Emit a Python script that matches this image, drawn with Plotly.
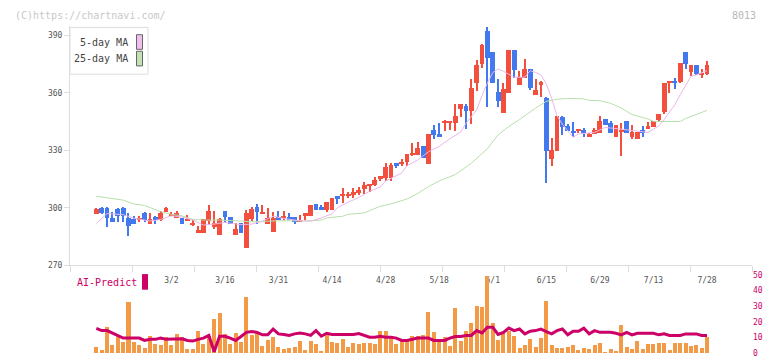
import plotly.graph_objects as go

# ---------------- data ----------------
day = list(range(1, 116))
open_ = [296.6, 299.8, 299.8, 294.7, 298.9, 299.8, 294.7, 293.9, 293.9, 297.0,
         291.5, 294.9, 293.6, 297.6, 296.0, 294.7, 294.7, 293.0, 291.0, 286.4,
         286.4, 292.7, 289.7, 285.4, 298.0, 294.9, 285.4, 291.9, 278.8, 294.0,
         300.0, 297.0, 291.5, 287.3, 294.9, 294.7, 294.9, 294.9, 292.7, 295.6,
         295.6, 302.0, 300.0, 298.6, 298.6, 306.1, 306.2, 306.2, 306.6, 307.6,
         309.7, 310.9, 311.7, 314.8, 315.1, 315.1, 322.9, 322.9, 323.6, 327.4,
         327.5, 332.0, 322.5, 340.2, 338.1, 344.2, 344.1, 344.2, 351.5, 352.7,
         350.5, 364.7, 374.9, 392.0, 380.8, 360.2, 349.3, 359.5, 381.9, 363.6,
         367.6, 372.2, 358.5, 363.9, 357.1, 325.4, 329.5, 347.3, 342.2, 339.8,
         340.0, 340.2, 336.8, 338.0, 338.8, 346.3, 344.2, 336.8, 339.8, 345.2,
         336.8, 335.8, 340.2, 340.8, 341.9, 345.8, 349.5, 365.1, 366.1, 365.6,
         380.8, 370.7, 374.2, 369.0, 369.8]
high = [299.5, 300.0, 300.0, 297.8, 299.5, 300.2, 296.9, 295.6, 295.6, 297.6,
        297.0, 295.6, 298.0, 300.0, 297.8, 298.0, 294.7, 295.8, 293.7, 290.5,
        294.0, 301.2, 298.0, 294.5, 298.0, 294.9, 291.9, 291.9, 298.6, 300.0,
        302.0, 301.2, 299.8, 297.6, 298.0, 298.0, 297.0, 295.0, 296.0, 297.0,
        301.0, 302.0, 301.0, 303.0, 305.1, 306.1, 310.2, 308.0, 310.2, 310.5,
        313.0, 312.2, 315.6, 316.5, 322.9, 322.9, 323.0, 325.0, 327.8, 333.4,
        334.2, 332.0, 338.1, 343.2, 344.2, 345.3, 344.5, 353.7, 353.7, 353.7,
        366.9, 377.0, 385.0, 394.1, 380.8, 367.0, 365.1, 381.9, 381.9, 371.2,
        377.3, 372.2, 367.1, 366.1, 357.5, 336.1, 347.8, 347.5, 343.6, 344.4,
        341.0, 341.3, 339.0, 341.3, 347.8, 346.3, 345.0, 343.2, 344.2, 345.2,
        343.2, 339.1, 342.2, 344.4, 345.2, 348.8, 365.1, 365.3, 367.3, 375.2,
        380.8, 374.2, 374.2, 372.4, 376.3]
low = [296.5, 296.6, 289.7, 292.5, 292.5, 292.5, 285.1, 291.5, 292.5, 292.5,
       291.5, 291.5, 293.0, 297.5, 295.6, 294.5, 291.5, 292.8, 290.5, 286.4,
       286.4, 291.0, 288.6, 285.4, 292.5, 291.5, 285.4, 286.4, 278.8, 293.0,
       291.4, 296.6, 291.5, 287.3, 293.6, 293.6, 293.6, 291.5, 292.5, 293.6,
       295.6, 298.6, 298.6, 297.6, 298.6, 301.7, 302.5, 304.9, 304.9, 306.6,
       307.1, 308.0, 310.9, 314.0, 313.9, 314.0, 320.7, 321.5, 321.5, 326.6,
       327.5, 325.6, 322.5, 335.8, 336.8, 339.7, 340.2, 339.7, 346.9, 341.0,
       343.6, 360.5, 372.9, 352.4, 364.7, 352.4, 349.3, 359.5, 367.6, 363.6,
       367.6, 361.4, 358.5, 357.5, 312.7, 321.5, 329.5, 337.6, 339.8, 336.8,
       338.8, 336.8, 336.8, 338.0, 338.8, 342.9, 338.8, 336.8, 326.6, 338.8,
       335.9, 335.8, 336.8, 340.8, 341.9, 344.9, 348.6, 359.7, 361.7, 364.8,
       371.9, 368.6, 369.0, 367.6, 369.0]
close = [299.0, 297.1, 294.7, 292.5, 295.6, 295.6, 290.5, 291.5, 294.0, 293.6,
         293.9, 293.6, 296.9, 299.8, 296.1, 297.0, 291.5, 293.1, 291.1, 288.0,
         293.9, 298.0, 291.9, 293.9, 294.9, 291.5, 288.8, 286.4, 296.9, 299.0,
         297.8, 297.1, 294.7, 294.7, 293.6, 294.8, 293.6, 292.5, 292.8, 297.0,
         301.0, 298.6, 298.6, 303.0, 305.1, 304.6, 306.3, 306.3, 308.0, 309.3,
         311.7, 312.2, 314.2, 316.5, 321.2, 321.9, 321.5, 323.0, 327.8, 327.5,
         330.9, 325.6, 338.1, 337.6, 336.8, 344.3, 344.3, 347.8, 353.7, 350.5,
         362.2, 374.2, 384.9, 377.8, 364.7, 355.4, 361.9, 381.9, 371.7, 368.1,
         372.2, 362.5, 361.0, 365.3, 329.5, 330.0, 347.5, 341.9, 339.8, 338.8,
         340.1, 338.8, 338.1, 340.2, 345.2, 342.9, 338.8, 343.2, 340.0, 338.8,
         339.1, 339.1, 338.8, 342.2, 345.2, 348.8, 365.1, 365.2, 364.8, 375.2,
         374.9, 374.2, 369.8, 370.3, 374.2]

ma5_day = [1, 3, 6, 8, 11, 13, 15, 17, 19, 21, 23, 25, 28, 30, 32, 34, 36, 39, 41,
           43, 45, 46, 48, 50, 52, 54, 55, 58, 59, 61, 63, 65, 67, 69, 70, 71, 72,
           73, 74, 75, 76, 77, 79, 81, 82, 83, 84, 85, 86, 87, 88, 90, 91, 94, 96,
           99, 101, 104, 106, 107, 108, 109, 110, 111, 112, 113, 114, 115]
ma5 = [291.9, 297.0, 296.4, 294.6, 293.1, 293.9, 295.8, 295.2, 293.6, 291.0,
       291.5, 292.4, 291.2, 291.5, 293.0, 295.6, 294.4, 293.2, 293.0, 294.7,
       296.9, 300.0, 302.9, 305.4, 308.6, 310.8, 314.0, 318.1, 322.0, 324.9,
       329.2, 332.0, 336.0, 339.5, 344.0, 347.5, 351.0, 358.5, 365.0, 370.5,
       372.4, 371.2, 368.1, 368.1, 371.5, 370.5, 369.3, 364.7, 357.0, 348.0,
       343.6, 336.8, 338.5, 339.3, 341.9, 341.0, 340.2, 339.3, 342.7, 346.0,
       350.0, 353.7, 359.0, 364.0, 368.5, 369.3, 370.3, 371.5]

ma25_day = [1, 3, 6, 8, 10, 13, 15, 17, 19, 21, 24, 27, 30, 35, 41, 43, 44, 47, 48,
            51, 52, 54, 56, 59, 61, 63, 65, 68, 71, 74, 76, 78, 80, 83, 85, 87, 89,
            92, 93, 95, 97, 99, 101, 104, 105, 110, 111, 113, 115]
ma25 = [306.0, 305.2, 304.0, 302.0, 301.2, 298.0, 296.6, 295.8, 293.9, 293.6,
        293.6, 293.2, 292.7, 293.2, 293.2, 293.6, 294.7, 295.6, 296.6, 297.3,
        298.6, 300.8, 302.0, 304.6, 307.5, 311.0, 314.0, 317.3, 323.2, 330.8,
        338.0, 342.4, 346.0, 352.0, 355.5, 356.6, 357.0, 356.8, 356.0, 355.8,
        354.5, 352.0, 348.6, 346.3, 345.0, 345.0, 346.5, 348.8, 350.8]

volume = [4.0, 1.9, 16.9, 5.0, 10.2, 7.1, 32.5, 6.9, 5.0, 3.3,
          10.6, 5.6, 5.0, 10.2, 5.0, 11.9, 10.2, 2.5, 2.5, 14.4,
          5.6, 10.6, 22.1, 25.6, 12.5, 5.6, 13.1, 6.9, 35.6, 11.3,
          13.1, 4.6, 8.1, 10.2, 3.8, 2.5, 3.3, 4.0, 7.5, 1.9,
          7.5, 5.6, 1.3, 11.7, 7.1, 6.7, 8.8, 4.0, 6.7, 6.0,
          6.7, 6.7, 6.0, 13.8, 13.8, 9.6, 6.0, 7.5, 8.8, 10.6,
          10.8, 11.3, 26.3, 13.3, 7.1, 10.2, 4.4, 28.8, 7.5, 14.2,
          19.4, 30.0, 29.4, 49.4, 19.4, 8.1, 13.0, 14.4, 10.6, 3.3,
          5.0, 8.8, 4.0, 9.6, 33.1, 5.0, 3.3, 3.3, 4.0, 5.0,
          1.9, 3.3, 2.5, 5.0, 6.3, 0.8, 2.5, 1.3, 18.1, 4.0,
          2.5, 7.5, 2.5, 5.6, 5.6, 6.3, 6.7, 1.9, 6.7, 6.7,
          6.7, 4.4, 5.0, 2.9, 10.2]

ai_predict = [15.8, 14.4, 14.4, 12.7, 11.3, 9.6, 9.6, 9.6, 9.6, 8.1,
              8.8, 8.8, 9.6, 8.8, 8.8, 8.8, 9.2, 8.1, 7.7, 8.8,
              9.6, 11.3, 0.8, 10.8, 10.8, 9.6, 8.1, 10.6, 13.3, 13.8,
              13.3, 11.7, 11.7, 15.4, 12.3, 11.9, 11.3, 12.3, 12.9, 12.3,
              11.3, 14.4, 10.8, 12.7, 11.9, 11.9, 11.9, 11.9, 11.9, 12.5,
              11.3, 10.2, 10.2, 10.8, 10.2, 10.2, 9.6, 8.1, 8.1, 8.8,
              9.6, 9.6, 9.6, 8.1, 8.1, 8.1, 9.6, 10.6, 10.6, 11.3,
              11.3, 14.4, 12.9, 16.5, 16.5, 11.9, 13.3, 16.0, 14.4, 15.4,
              12.3, 14.0, 14.4, 15.4, 13.8, 12.3, 14.4, 15.4, 11.7, 14.0,
              14.0, 16.0, 12.3, 14.4, 13.3, 13.3, 13.3, 12.7, 11.7, 13.3,
              11.7, 12.7, 12.7, 12.7, 12.7, 11.7, 12.3, 11.3, 11.3, 11.3,
              12.3, 12.3, 12.3, 11.3, 11.3]

label_day = [15, 25, 35, 45, 55, 65, 75, 85, 95, 105, 115]
label_text = ["3/2", "3/16", "3/31", "4/14", "4/28", "5/18", "6/1", "6/15",
              "6/29", "7/13", "7/28"]
price_ticks = [270, 300, 330, 360, 390]
sub_ticks = [0, 10, 20, 30, 40, 50]

# ---------------- styling ----------------
W, H = 772, 361
RED, BLUE = "#f24f3e", "#4279ef"
FONT = "DejaVu Sans Mono"
X_RANGE = [-3.92, 123.4]
PLOT_L, PLOT_R = 70, 752


def px(x):
    return x / W


def py(y):
    return 1 - y / H


colors = [RED if c >= o else BLUE for o, c in zip(open_, close)]
body_base = [min(o, c) for o, c in zip(open_, close)]
body_h = [max(abs(c - o), 0.55) for o, c in zip(open_, close)]
wick_h = [h - l for h, l in zip(high, low)]

fig = go.Figure()

# MA lines
fig.add_trace(go.Scatter(x=ma25_day, y=ma25, mode="lines",
                         line=dict(color="#b9dfab", width=1), hoverinfo="skip"))
fig.add_trace(go.Scatter(x=ma5_day, y=ma5, mode="lines",
                         line=dict(color="#e9b6ea", width=1), hoverinfo="skip"))
# wicks
fig.add_trace(go.Bar(x=day, y=wick_h, base=low, width=0.2,
                     marker=dict(color=colors, line=dict(width=0))))
# bodies
fig.add_trace(go.Bar(x=day, y=body_h, base=body_base, width=0.9,
                     marker=dict(color=colors, line=dict(width=0))))

# lower panel
fig.add_trace(go.Bar(x=day, y=volume, width=0.75, xaxis="x2", yaxis="y2",
                     marker=dict(color="#f29a45", line=dict(width=0))))
fig.add_trace(go.Scatter(x=day, y=ai_predict, mode="lines", xaxis="x2", yaxis="y2",
                         line=dict(color="#cc0066", width=3)))

minor_vals = [X_RANGE[0] + k * (X_RANGE[1] - X_RANGE[0]) / 11 for k in range(12)]

fig.update_layout(
    width=W, height=H,
    margin=dict(l=0, r=0, t=0, b=0),
    paper_bgcolor="white", plot_bgcolor="white",
    showlegend=False, barmode="overlay", bargap=0,
    font=dict(family=FONT, size=8, color="#555555"),
    xaxis=dict(domain=[px(PLOT_L), px(PLOT_R)], range=X_RANGE,
               tickmode="array", tickvals=label_day, ticktext=label_text,
               ticks="outside", ticklen=7, tickcolor="rgba(0,0,0,0)",
               tickfont=dict(family=FONT, size=8, color="#555555"),
               showline=True, linecolor="#dddddd", linewidth=1,
               showgrid=False, zeroline=False,
               minor=dict(tickmode="array", tickvals=minor_vals, ticks="outside",
                          ticklen=6, tickcolor="#dddddd", tickwidth=1, showgrid=False),
               anchor="y"),
    yaxis=dict(domain=[py(268), py(23)], range=[270, 394.57],
               tickmode="array", tickvals=price_ticks,
               ticks="outside", ticklen=5, tickcolor="#dddddd",
               tickfont=dict(family=FONT, size=8, color="#555555"),
               showline=True, linecolor="#dddddd", linewidth=1,
               showgrid=False, zeroline=False, anchor="x"),
    xaxis2=dict(domain=[px(PLOT_L), px(PLOT_R)], range=X_RANGE, matches="x",
                showticklabels=False, showline=False, showgrid=False,
                zeroline=False, ticks="", anchor="y2"),
    yaxis2=dict(domain=[py(358), py(278)], range=[0, 50], side="right",
                tickmode="array", tickvals=sub_ticks, ticks="",
                tickfont=dict(family=FONT, size=8, color="#cc0066"),
                showline=False, showgrid=False, zeroline=False, anchor="x2"),
)

shapes = [
    dict(type="rect", xref="paper", yref="paper", x0=px(70), x1=px(148),
         y0=py(72), y1=py(24), line=dict(color="#dddddd", width=1),
         fillcolor="white", layer="above"),
    dict(type="rect", xref="paper", yref="paper", x0=px(136.5), x1=px(142.5),
         y0=py(46.5), y1=py(31.5), line=dict(color="#666666", width=1),
         fillcolor="#efc0ef", layer="above"),
    dict(type="rect", xref="paper", yref="paper", x0=px(136.5), x1=px(142.5),
         y0=py(63.5), y1=py(48.5), line=dict(color="#666666", width=1),
         fillcolor="#c2e2b4", layer="above"),
    dict(type="rect", xref="paper", yref="paper", x0=px(142), x1=px(148),
         y0=py(293), y1=py(277), line=dict(width=0),
         fillcolor="#cc0066", layer="above"),
]
fig.update_layout(shapes=shapes)


def note(text, x, y, anchor, color, size=10):
    fig.add_annotation(text=text, x=px(x), y=py(y), xref="paper", yref="paper",
                       xanchor=anchor, yanchor="middle", showarrow=False,
                       font=dict(family=FONT, size=size, color=color))


note("(C)https://chartnavi.com/", 13, 12, "left", "#c8c8c8")
note("8013", 758, 12, "right", "#b8b8b8")
note("5-day MA", 130, 39, "right", "#444444")
note("25-day MA", 130, 56, "right", "#444444")
note("AI-Predict", 75, 286, "left", "#cc0066")

fig.write_html("out.html")
